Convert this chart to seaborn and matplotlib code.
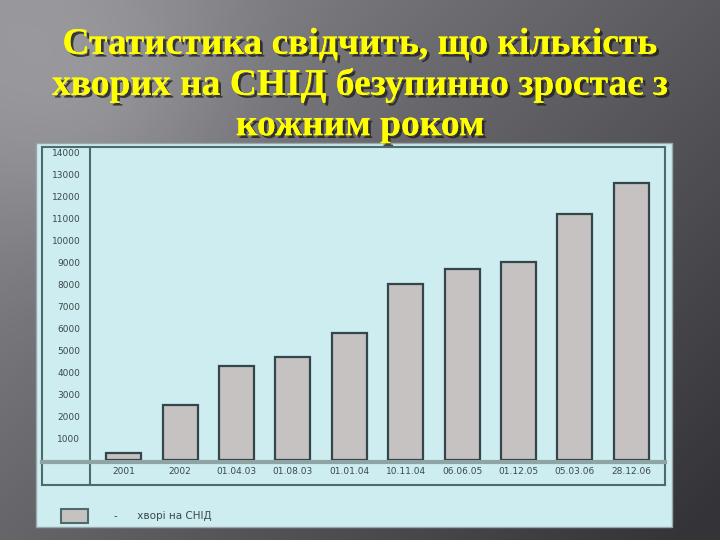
import numpy as np
import matplotlib
matplotlib.use('Agg')
import matplotlib.pyplot as plt
import matplotlib.patheffects as pe
from matplotlib.patches import Rectangle, Patch
from matplotlib.lines import Line2D
from matplotlib.colors import LinearSegmentedColormap
import seaborn as sns

# --- data ---
dates = ['2001', '2002', '01.04.03', '01.08.03', '01.01.04', '10.11.04',
         '06.06.05', '01.12.05', '05.03.06', '28.12.06']
patients = [300, 2500, 4300, 4700, 5800, 8000, 8700, 9000, 11200, 12600]
y_ticks = list(range(1000, 15000, 1000))
title = 'Статистика свідчить, що кількість\nхворих на СНІД безупинно зростає з\nкожним роком'
legend_label = '-      хворі на СНІД'

W, H = 720, 540
fig = plt.figure(figsize=(7.2, 5.4), dpi=100)

def fx(px):
    return px / W

def fy(py):
    return 1 - py / H

# --- slide background: gray gradient ---
bg = fig.add_axes([0, 0, 1, 1])
xx, yy = np.meshgrid(np.linspace(0, 1, W), np.linspace(0, 1, H))
shade = 0.78 - 0.45 * xx - 0.35 * yy
shade += 0.18 * np.exp(-(((xx - 0.12) / 0.22) ** 2 + ((yy - 0.18) / 0.28) ** 2))
slide_cmap = LinearSegmentedColormap.from_list('slide', ['#333338', '#a8a8ac'])
bg.imshow(np.clip(shade, 0, 1), cmap=slide_cmap, vmin=0, vmax=1, aspect='auto',
          extent=[0, 1, 0, 1])
bg.set_axis_off()

# --- title ---
fig.text(0.5, fy(85), title, ha='center', va='center', color='#ffff00',
         fontsize=27, fontweight='bold', family='Liberation Serif',
         linespacing=1.2,
         path_effects=[pe.withSimplePatchShadow(offset=(2, -2), shadow_rgbFace='#202020', alpha=0.8),
                       pe.Normal()])

# --- chart picture panel ---
fig.patches.append(Rectangle((fx(36), fy(527)), fx(672) - fx(36), fy(143) - fy(527),
                             transform=fig.transFigure, facecolor='#cdedf1',
                             edgecolor='#9aa8aa', linewidth=1, zorder=2))

frame_col = '#4d6b6b'
for xs, ys, lw, c in [([42, 665], [147, 147], 1.5, frame_col),
                      ([42, 665], [485, 485], 1.5, frame_col),
                      ([42, 42], [147, 485], 1.5, frame_col),
                      ([665, 665], [147, 485], 1.5, frame_col),
                      ([90, 90], [147, 485], 1.5, frame_col),
                      ([42, 665], [462, 462], 3, '#8fa4a4')]:
    fig.lines.append(Line2D([fx(v) for v in xs], [fy(v) for v in ys],
                            transform=fig.transFigure, color=c, linewidth=lw, zorder=3))

ax = fig.add_axes([fx(90), fy(460), fx(665) - fx(90), fy(148) - fy(460)])
ax.set_zorder(4)
ax.patch.set_alpha(0)

sns.barplot(x=dates, y=patients, color='#c6c2c2', edgecolor='#34464a',
            linewidth=1.6, width=0.62, saturation=1, ax=ax)

ax.set_xlim(-0.6, len(dates) - 0.4)
ax.set_ylim(0, 14200)
ax.set_yticks(y_ticks)
ax.set_yticklabels([str(v) for v in y_ticks])
ax.tick_params(axis='y', length=0, pad=7, labelsize=6.5, labelcolor='#3c4848')
ax.tick_params(axis='x', length=0, pad=5, labelsize=6.5, labelcolor='#3c4848')
for s in ax.spines.values():
    s.set_visible(False)
ax.set_xlabel('')
ax.set_ylabel('')

handle = Patch(facecolor='#c6c2c2', edgecolor='#4d6b6b', linewidth=1.5)
fig.legend([handle], [legend_label], loc='center left',
           bbox_to_anchor=(fx(52), fy(516)), frameon=False, fontsize=7.5,
           handlelength=2.6, handleheight=1.6, handletextpad=2.5,
           labelcolor='#3c4848').set_zorder(5)

fig.savefig('out.png', dpi=100)
